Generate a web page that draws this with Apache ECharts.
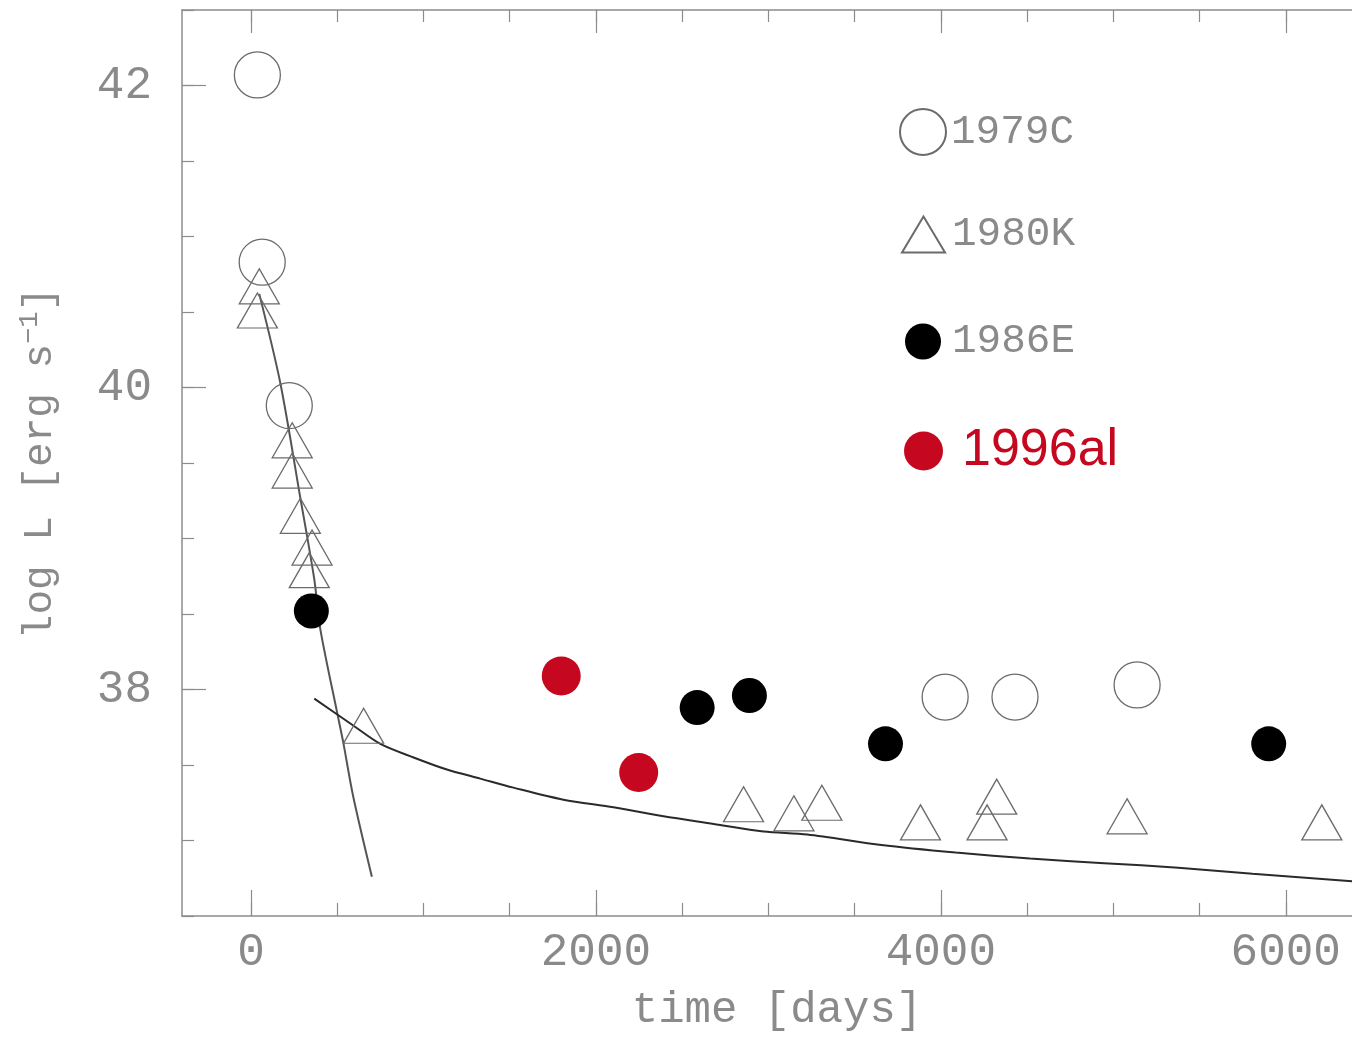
<!DOCTYPE html>
<html>
<head>
<meta charset="utf-8">
<title>log L vs time</title>
<script src="https://cdn.jsdelivr.net/npm/echarts@6/dist/echarts.min.js"></script>
<style>
  html, body { margin: 0; padding: 0; background: #ffffff; }
  #chart { width: 1352px; height: 1038px; }
</style>
</head>
<body>
<div id="chart"></div>
<script>
// Observed X-ray luminosities: [time in days, log L]
const sn1979C = [[37, 42.07], [65, 40.83], [222, 39.88], [4025, 37.95], [4430, 37.95], [5138, 38.03]];
const sn1980K = [[48, 40.67], [37, 40.51], [239, 39.65], [239, 39.45], [286, 39.15], [354, 38.94],
                 [338, 38.79], [653, 37.76], [2856, 37.24], [3148, 37.18], [3310, 37.25], [3882, 37.12],
                 [4324, 37.29], [4268, 37.12], [5080, 37.16], [6209, 37.12]];
const sn1986E = [[350, 38.52], [2587, 37.88], [2890, 37.96], [3679, 37.64], [5901, 37.64]];
const sn1996al = [[1799, 38.09], [2248, 37.45]];

// Model curves
const steepModel = [[48, 40.62], [170, 40.03], [286, 39.27], [367, 38.73], [402, 38.40],
                    [499, 37.85], [535, 37.65], [593, 37.29], [701, 36.76]];
const slowModel = [[367, 37.94], [595, 37.76], [750, 37.64], [943, 37.55], [1136, 37.47],
                   [1329, 37.41], [1522, 37.35], [1812, 37.27], [2102, 37.22], [2392, 37.16],
                   [2683, 37.11], [2972, 37.06], [3226, 37.04], [3656, 36.97], [4086, 36.92],
                   [4517, 36.88], [4947, 36.85], [5377, 36.82], [5807, 36.78], [6384, 36.73]];

// Axis ticks and labels
const xMinorTicks = [0, 500, 1000, 1500, 2000, 2500, 3000, 3500, 4000, 4500, 5000, 5500, 6000, 6500];
const xMajorTicks = [0, 2000, 4000, 6000];
const yMinorTicks = [36.5, 37, 37.5, 38, 38.5, 39, 39.5, 40, 40.5, 41, 41.5, 42, 42.5];
const yMajorTicks = [38, 40, 42];

const GREY_TEXT = '#8a8a8a';
const AXIS_COLOR = '#8c8c8c';
const MONO = '"Liberation Mono", "DejaVu Sans Mono", monospace';
const RED = '#c5081f';
const X_RANGE = { min: -400, max: 6500 };
const Y_RANGE = { min: 36.5, max: 42.5 };

function plainNumber(v) { return String(v); }

function xAxisDef(position, ticks, len, showLine, labels) {
  return Object.assign({
    type: 'value', position: position, gridIndex: 0,
    splitLine: { show: false },
    axisLine: { show: showLine, onZero: false, lineStyle: { color: AXIS_COLOR, width: 1.5 } },
    axisTick: { show: true, inside: true, length: len, customValues: ticks,
                lineStyle: { color: AXIS_COLOR, width: 1.2 } },
    axisLabel: labels ? {
      show: true, customValues: xMajorTicks, margin: 14, formatter: plainNumber,
      color: GREY_TEXT, fontFamily: MONO, fontSize: 46
    } : { show: false }
  }, X_RANGE);
}

function yAxisDef(ticks, len, showLine, labels) {
  return Object.assign({
    type: 'value', position: 'left', gridIndex: 0,
    splitLine: { show: false },
    axisLine: { show: showLine, onZero: false, lineStyle: { color: AXIS_COLOR, width: 1.5 } },
    axisTick: { show: true, inside: true, length: len, customValues: ticks,
                lineStyle: { color: AXIS_COLOR, width: 1.2 } },
    axisLabel: labels ? {
      show: true, customValues: yMajorTicks, margin: 30, formatter: plainNumber,
      color: GREY_TEXT, fontFamily: MONO, fontSize: 46
    } : { show: false }
  }, Y_RANGE);
}

const xBottom = xAxisDef('bottom', xMinorTicks, 13, true, true);
xBottom.name = 'time [days]';
xBottom.nameLocation = 'middle';
xBottom.nameGap = 72;
xBottom.nameTextStyle = { color: GREY_TEXT, fontFamily: MONO, fontSize: 44 };

const yLeft = yAxisDef(yMinorTicks, 12, true, true);
yLeft.name = '{n|log L [erg s}{s|−1}{n|]}';
yLeft.nameLocation = 'middle';
yLeft.nameGap = 118;
yLeft.nameTextStyle = {
  color: GREY_TEXT, fontFamily: MONO, fontSize: 41,
  rich: {
    n: { color: GREY_TEXT, fontFamily: MONO, fontSize: 41, lineHeight: 48 },
    s: { color: GREY_TEXT, fontFamily: MONO, fontSize: 27, verticalAlign: 'top', lineHeight: 48 }
  }
};

const openStyle = { color: 'rgba(0,0,0,0)', borderColor: '#6b6b6b', borderWidth: 1.3, opacity: 1 };

const option = {
  animation: false,
  backgroundColor: '#ffffff',
  grid: { left: 182, top: 10, width: 1190, height: 906, outerBoundsMode: 'none', containLabel: false },
  xAxis: [
    xBottom,
    xAxisDef('bottom', xMajorTicks, 26, false, false),
    xAxisDef('top', xMinorTicks, 12, true, false),
    xAxisDef('top', xMajorTicks, 23, false, false)
  ],
  yAxis: [
    yLeft,
    yAxisDef(yMajorTicks, 24, false, false)
  ],
  legend: [
    { data: ['1979C'], left: 899, top: 108, padding: 0, itemWidth: 46, itemHeight: 46, selectedMode: false,
      textStyle: { color: GREY_TEXT, fontFamily: MONO, fontSize: 41 } },
    { data: ['1980K'], left: 901, top: 214, padding: 0, itemWidth: 43, itemHeight: 36, selectedMode: false,
      textStyle: { color: GREY_TEXT, fontFamily: MONO, fontSize: 41, padding: [0, 0, 0, 2] } },
    { data: ['1986E'], left: 905, top: 321, padding: 0, itemWidth: 36, itemHeight: 36, selectedMode: false,
      textStyle: { color: GREY_TEXT, fontFamily: MONO, fontSize: 41, padding: [0, 0, 0, 6] } },
    { data: ['1996al'], left: 904, top: 425, padding: 0, itemWidth: 39, itemHeight: 39, selectedMode: false,
      textStyle: { color: RED, fontFamily: '"Liberation Sans", Arial, sans-serif', fontSize: 52,
                   padding: [0, 0, 0, 14] } }
  ],
  series: [
    { name: 'steep', type: 'line', data: steepModel, showSymbol: false, smooth: 0.3,
      lineStyle: { color: '#555555', width: 2 }, z: 1, silent: true },
    { name: 'slow', type: 'line', data: slowModel, showSymbol: false, smooth: 0.3,
      lineStyle: { color: '#2a2a2a', width: 2 }, z: 1, silent: true },
    { name: '1979C', type: 'scatter', data: sn1979C, symbol: 'circle', symbolSize: 46,
      itemStyle: openStyle, z: 3 },
    { name: '1980K', type: 'scatter', data: sn1980K, symbol: 'triangle', symbolSize: [40, 35],
      itemStyle: openStyle, z: 3 },
    { name: '1986E', type: 'scatter', data: sn1986E, symbol: 'circle', symbolSize: 35,
      itemStyle: { color: '#000000', opacity: 1 }, z: 4 },
    { name: '1996al', type: 'scatter', data: sn1996al, symbol: 'circle', symbolSize: 39,
      itemStyle: { color: RED, opacity: 1 }, z: 4 }
  ]
};

const chart = echarts.init(document.getElementById('chart'), null, { renderer: 'canvas' });
chart.setOption(option);
</script>
</body>
</html>
